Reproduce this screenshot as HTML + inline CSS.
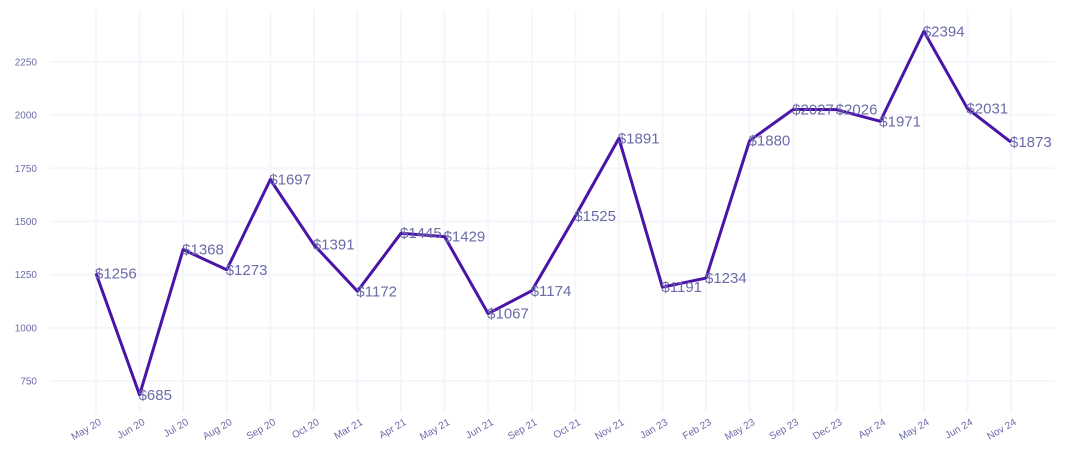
<!DOCTYPE html>
<html><head><meta charset="utf-8"><style>
html,body{margin:0;padding:0;background:#fff;}
svg{display:block;font-family:"Liberation Sans",sans-serif;}
</style></head><body>
<svg id="chart" width="1070" height="465"></svg>
<script>
const categories=["May 20","Jun 20","Jul 20","Aug 20","Sep 20","Oct 20","Mar 21","Apr 21","May 21","Jun 21","Sep 21","Oct 21","Nov 21","Jan 23","Feb 23","May 23","Sep 23","Dec 23","Apr 24","May 24","Jun 24","Nov 24"];
const values=[1256,685,1368,1273,1697,1391,1172,1445,1429,1067,1174,1525,1891,1191,1234,1880,2027,2026,1971,2394,2031,1873];
const yTicks=[750,1000,1250,1500,1750,2000,2250];
const NS="http://www.w3.org/2000/svg";
const svgEl=document.getElementById('chart');
const plotX0=96,plotX1=1011,plotTop=10,plotBottom=412;
function xs(i){return plotX0+i*(plotX1-plotX0)/(categories.length-1);}
function ys(v){return 381-(v-750)*(381-62)/1500;}
function mk(t,a,p){const e=document.createElementNS(NS,t);for(const k in a)e.setAttribute(k,a[k]);(p||svgEl).appendChild(e);return e;}
const grid=mk('g',{});


yTicks.forEach(v=>{
 const l=mk('line',{x1:50,x2:1055,y1:ys(v),y2:ys(v),stroke:'#f5f5fc','stroke-width':2},grid);
 
 
 const t=mk('text',{x:37,y:ys(v)+3.5,'text-anchor':'end','font-size':10,fill:'#6b6ba8'});
 t.textContent=v;
 
 
});
categories.forEach((c,i)=>{
 const l=mk('line',{x1:xs(i),x2:xs(i),y1:plotTop,y2:plotBottom,stroke:'#f5f5fc','stroke-width':2},grid);
 
 
 const t=mk('text',{x:xs(i)+6,y:424,'text-anchor':'end','font-size':10,fill:'#6b6ba8',transform:`rotate(-30 ${xs(i)+6} 424)`});
 t.textContent=c;
 
 
});
const pts=values.map((v,i)=>xs(i)+','+ys(v)).join(' ');
const line=mk('polyline',{points:pts,fill:'none',stroke:'#4a14a8','stroke-width':3,'stroke-linejoin':'round'});


values.forEach((v,i)=>{
 const t=mk('text',{x:xs(i)-1,y:ys(v)+5,'font-size':15,fill:'#6b6ba8'});
 t.textContent='$'+v;
 
 
});
</script>
</body></html>
